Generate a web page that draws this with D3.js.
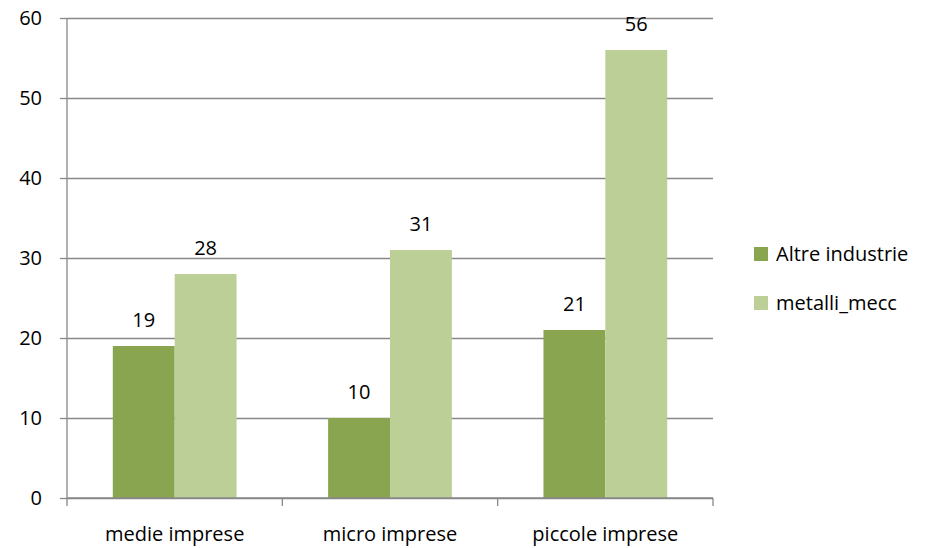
<!DOCTYPE html>
<html>
<head>
<meta charset="utf-8">
<script src="https://cdn.jsdelivr.net/npm/d3@7"></script>
<style>
  body { margin: 0; background: #fff; }
  text { font-family: "Open Sans", "Liberation Sans", sans-serif; fill: #000; }
</style>
</head>
<body>
<script>
const categories = ['medie imprese', 'micro imprese', 'piccole imprese'];
const seriesNames = ['Altre industrie', 'metalli_mecc'];
const altreIndustrie = [19, 10, 21];
const metalliMecc = [28, 31, 56];
const yTicks = [0, 10, 20, 30, 40, 50, 60];
const colors = ['#8aa550', '#bbcf97'];

const W = 947, H = 548;
const margin = {top: 18, left: 67, right: 234, bottom: 50};
const width = W - margin.left - margin.right;
const height = H - margin.top - margin.bottom;
const fs = '20px';

const svg = d3.select('body')
  .append('svg')
  .attr('width', W)
  .attr('height', H)

const g = svg.append('g')
  .attr('transform', 'translate(' + margin.left + ',' + margin.top + ')');

//y scale
const yScale = d3.scaleLinear().domain([0, 60]).range([height, 0]);

//x scales
const x0 = d3.scaleBand().domain(categories).range([0, width]);
const x1 = d3.scaleBand().domain(seriesNames)
  .range([0, x0.bandwidth()])
  .paddingOuter(0.74)
  .paddingInner(0);

//gridlines + y axis
const yAxis = g.append('g')
  .call(d3.axisLeft(yScale).tickValues(yTicks).tickSize(7).tickPadding(18))
yAxis.select('.domain').remove();
yAxis.selectAll('.tick line').attr('stroke', '#888').attr('stroke-width', 1.3);
yAxis.selectAll('.tick text').style('font-size', fs).attr('fill', '#000');
yAxis.selectAll('.tick').append('line')
  .attr('x1', 0).attr('x2', width)
  .attr('stroke', '#888').attr('stroke-width', 1.3);

//bars
const rows = categories.map((c, i) => ({cat: c, vals: [altreIndustrie[i], metalliMecc[i]]}));

const groups = g.selectAll('.grp')
  .data(rows)
  .enter()
  .append('g')
  .attr('transform', d => 'translate(' + x0(d.cat) + ',0)');

groups.selectAll('rect')
  .data(d => d.vals.map((v, j) => ({name: seriesNames[j], v: v, j: j})))
  .enter()
  .append('rect')
  .attr('x', d => x1(d.name))
  .attr('y', d => yScale(d.v))
  .attr('width', x1.bandwidth())
  .attr('height', d => height - yScale(d.v))
  .attr('fill', d => colors[d.j]);

groups.selectAll('.lbl')
  .data(d => d.vals.map((v, j) => ({name: seriesNames[j], v: v})))
  .enter()
  .append('text')
  .attr('x', d => x1(d.name) + x1.bandwidth() / 2)
  .attr('y', d => yScale(d.v) - 19)
  .attr('text-anchor', 'middle')
  .style('font-size', fs)
  .text(d => d.v);

//x axis
const xAxis = g.append('g')
  .attr('transform', 'translate(0,' + height + ')');
xAxis.append('line')
  .attr('x1', 0).attr('x2', width)
  .attr('stroke', '#888').attr('stroke-width', 1.3);
const bounds = [0].concat(categories.map(c => x0(c) + x0.bandwidth()));
xAxis.selectAll('.tk')
  .data(bounds)
  .enter()
  .append('line')
  .attr('x1', d => d).attr('x2', d => d)
  .attr('y1', 0).attr('y2', 8)
  .attr('stroke', '#888').attr('stroke-width', 1.3);
xAxis.selectAll('.cl')
  .data(categories)
  .enter()
  .append('text')
  .attr('x', d => x0(d) + x0.bandwidth() / 2)
  .attr('y', 43)
  .attr('text-anchor', 'middle')
  .style('font-size', fs)
  .text(d => d);

//y axis line
g.append('line')
  .attr('x1', 0).attr('x2', 0)
  .attr('y1', 0).attr('y2', height)
  .attr('stroke', '#888').attr('stroke-width', 1.3);

//legend
const legend = svg.append('g')
  .attr('transform', 'translate(754,247)');
const items = legend.selectAll('g')
  .data(seriesNames)
  .enter()
  .append('g')
  .attr('transform', (d, i) => 'translate(0,' + (i * 49) + ')');
items.append('rect')
  .attr('width', 14).attr('height', 14)
  .attr('fill', (d, i) => colors[i]);
items.append('text')
  .attr('x', 22)
  .attr('y', 14)
  .style('font-size', fs)
  .text(d => d);
</script>
</body>
</html>
